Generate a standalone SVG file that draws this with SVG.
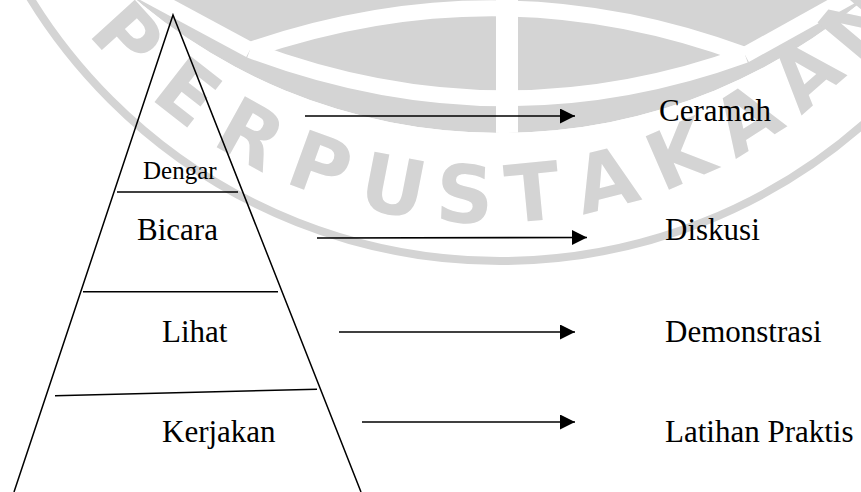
<svg xmlns="http://www.w3.org/2000/svg" width="861" height="492" viewBox="0 0 861 492">
  <style>
    .wm { fill: #d4d4d4; }
    .wml { font-family: "DejaVu Sans", "Liberation Sans", sans-serif; font-weight: bold; font-size: 80px; fill: #d4d4d4; text-anchor: middle; }
    .ln { stroke: #000; stroke-width: 1.5; fill: none; }
    .lbl { font-family: "Liberation Serif", "Times New Roman", serif; font-size: 31px; fill: #000; }
    .sm { font-size: 25px; }
    .arr { stroke: #000; stroke-width: 1.7; fill: none; marker-end: url(#ah); }
  </style>
  <defs>
    <marker id="ah" markerUnits="userSpaceOnUse" markerWidth="16" markerHeight="16" refX="15" refY="7.5" orient="auto">
      <path d="M0,0 L15,7.5 L0,15 Z" fill="#000"/>
    </marker>
    <clipPath id="disk"><circle cx="500" cy="-430" r="563"/></clipPath>
  </defs>
  <rect width="861" height="492" fill="#fff"/>

  <g id="watermark">
    <circle cx="500" cy="-290" r="551" fill="none" stroke="#d4d4d4" stroke-width="8"/>
    <g clip-path="url(#disk)">
      <circle class="wm" cx="500" cy="-430" r="563"/>
      <path d="M250 50 Q500 -36 745 55" stroke="#fff" stroke-width="16" fill="none"/>
      <path d="M250 50 Q500 144 745 55" stroke="#fff" stroke-width="16" fill="none"/>
      <path d="M745 55 L880 -20" stroke="#fff" stroke-width="16" fill="none"/>
      <path d="M250 50 L120 -20" stroke="#fff" stroke-width="16" fill="none"/>
      <rect x="496" y="0" width="22" height="140" fill="#fff"/>
    </g>
    <g class="wml">
      <text x="486" y="223" transform="rotate(47.7 486 -290)">P</text>
      <text x="486" y="223" transform="rotate(38 486 -290)">E</text>
      <text x="486" y="223" transform="rotate(29 486 -290)">R</text>
      <text x="486" y="223" transform="rotate(20 486 -290)">P</text>
      <text x="486" y="223" transform="rotate(11 486 -290)">U</text>
      <text x="486" y="223" transform="rotate(2.5 486 -290)">S</text>
      <text x="486" y="223" transform="rotate(-5.5 486 -290)">T</text>
      <text x="486" y="223" transform="rotate(-14.3 486 -290)">A</text>
      <text x="486" y="223" transform="rotate(-23.5 486 -290)">K</text>
      <text x="486" y="223" transform="rotate(-32.5 486 -290)">A</text>
      <text x="486" y="223" transform="rotate(-41.3 486 -290)">A</text>
      <text x="486" y="223" transform="rotate(-50 486 -290)">N</text>
    </g>
  </g>

  <g id="pyramid">
    <path class="ln" d="M14 492 L173 15 L361 492"/>
    <line class="ln" x1="117" y1="192" x2="238" y2="192"/>
    <line class="ln" x1="83" y1="291.7" x2="278" y2="291.7"/>
    <line class="ln" x1="55" y1="395.7" x2="317" y2="389.3"/>
  </g>
  <g id="node-dengar"><text class="lbl sm" x="143" y="178.5">Dengar</text></g>
  <g id="node-bicara"><text class="lbl" x="137" y="240">Bicara</text></g>
  <g id="node-lihat"><text class="lbl" x="162" y="341.7">Lihat</text></g>
  <g id="node-kerjakan"><text class="lbl" x="162" y="441.7">Kerjakan</text></g>

  <g id="node-ceramah"><text class="lbl" x="659" y="120.5">Ceramah</text></g>
  <g id="node-diskusi"><text class="lbl" x="665" y="240">Diskusi</text></g>
  <g id="node-demonstrasi"><text class="lbl" x="665" y="342">Demonstrasi</text></g>
  <g id="node-latihan"><text class="lbl" x="665" y="441.7">Latihan Praktis</text></g>

  <g id="connectors">
    <line class="arr" x1="305" y1="116" x2="575" y2="116"/>
    <line class="arr" x1="317" y1="238" x2="587" y2="237.5"/>
    <line class="arr" x1="339" y1="332" x2="575" y2="332"/>
    <line class="arr" x1="362" y1="422" x2="575" y2="422"/>
  </g>
</svg>
